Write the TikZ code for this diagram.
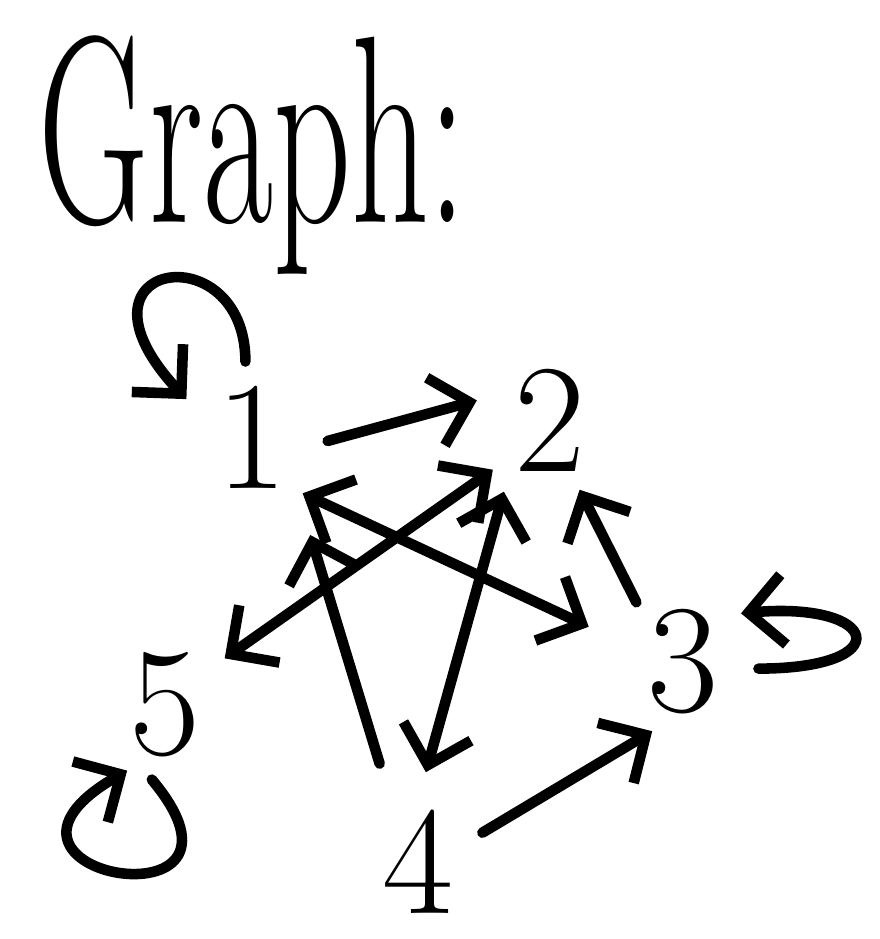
\documentclass[tikz,border=0pt]{standalone}
\usepackage{tikz}
\usetikzlibrary{arrows.meta}

\begin{document}
\begin{tikzpicture}[
    x=0.01cm, y=-0.01cm,
    vertex/.style={circle, minimum size=1.5cm, inner sep=0pt, font=\fontsize{44}{44}\selectfont},
    arrow/.style={-{Straight Barb[length=3.5mm, width=7mm]}, line width=3pt, line cap=round},
    biarrow/.style={{Straight Barb[length=3.5mm, width=7mm]}-{Straight Barb[length=3.5mm, width=7mm]}, line width=3pt, line cap=round}
]
\useasboundingbox (0,0) rectangle (880,939);
\node[anchor=base west, inner sep=0pt, font=\fontsize{76}{76}\selectfont] (title) at (38,222) {\scalebox{0.57}[1]{Graph:}};
\node[vertex] (n1) at (252,437) {1};
\node[vertex] (n2) at (550,420) {2};
\node[vertex] (n3) at (683,662) {3};
\node[vertex, minimum size=1.3cm] (n4) at (418,862) {4};
\node[vertex] (n5) at (165,705) {5};
% self loops
\draw[arrow] (n1.95) .. controls +(90:1.3cm) and +(133:1.9cm) .. (n1.150);
\draw[arrow] (n3.-5) .. controls +(0:1.4cm) and +(5:1.4cm) .. (n3.40);
\draw[arrow] (n5.-100) .. controls +(-50:2cm) and +(-150:2.1cm) .. (n5.-120);
% edges
\draw[arrow] (n1.-3) -- (n2.165);
\draw[arrow] (n3.128) -- (n2.-67);
\draw[arrow, shorten <=0.05cm] (n4.24) -- (n3.-114);
\draw[arrow, shorten <=0.4cm, shorten >=0.4cm] (n4.114) -- (n1.-52);
\draw[biarrow, shorten <=0.25cm, shorten >=0.1cm] (n4.89) -- (n2.-125);
\draw[biarrow] (n5.38) -- (n2.-139);
\draw[biarrow, shorten >=0.25cm] (n1.-48) -- (n3.161);
\end{tikzpicture}
\end{document}
